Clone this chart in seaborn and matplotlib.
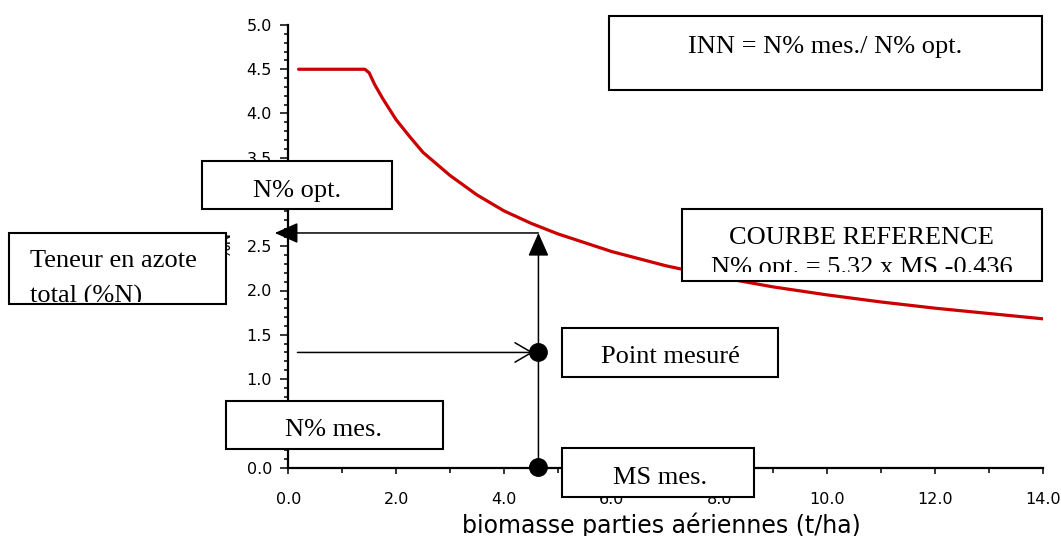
import matplotlib
matplotlib.use("Agg")
import matplotlib.pyplot as plt
import seaborn as sns
from matplotlib.patches import Rectangle
from matplotlib.transforms import Bbox, TransformedBbox
from matplotlib.ticker import MultipleLocator, FixedLocator, FixedFormatter

# ---------------- data ----------------
ms_curve = [0.19, 1.42, 1.50, 1.60, 1.75, 2.00, 2.25, 2.50, 3.00, 3.50, 4.00, 4.50,
            5.00, 6.00, 7.00, 8.00, 9.00, 10.0, 11.0, 12.0, 13.0, 14.0]
n_curve = [4.50, 4.50, 4.46, 4.33, 4.17, 3.93, 3.74, 3.56, 3.30, 3.08, 2.90, 2.76,
           2.64, 2.44, 2.28, 2.15, 2.04, 1.95, 1.87, 1.80, 1.74, 1.68]

ms_mes = 4.64          # measured biomass (t/ha)
n_opt = 2.65           # optimal N% at ms_mes
n_mes = 1.30           # measured N%
n_mes_line_start = 0.17
n_opt_arrow_tip = -0.25

x_ticks = [0, 2, 4, 6, 8, 10, 12, 14]
x_tick_labels = ["0.0", "2.0", "4.0", "6.0", "8.0", "10.0", "12.0", "14.0"]
y_ticks = [0.0, 0.5, 1.0, 1.5, 2.0, 2.5, 3.0, 3.5, 4.0, 4.5, 5.0]
y_tick_labels = ["0.0", "0.5", "1.0", "1.5", "2.0", "2.5", "3.0", "3.5", "4.0", "4.5", "5.0"]

x_label = "biomasse parties aériennes (t/ha)"
y_label = "%N"

# boxes: (x0, y0, x1, y1) in figure pixels, text lines, text x, ha, first baseline, line gap, clip bottom
boxes = [
    ((609.3, 16, 1041.7, 89.5), ["INN = N% mes./ N% opt."], 688, "left", 53.3, 0, None),
    ((201.7, 160.7, 392, 209), ["N% opt."], 252.7, "left", 196.7, 0, None),
    ((9.3, 233.3, 226, 304.3), ["Teneur en azote", "total (%N)"], 30, "left", 267.3, 35.5, 301.7),
    ((681.7, 209.3, 1041.7, 280.7), ["COURBE REFERENCE", "N% opt. = 5.32 x MS -0.436"],
     861.7, "center", 244.3, 30, 271.7),
    ((561.7, 328.3, 778.3, 376.7), ["Point mesuré"], 600.7, "left", 363.3, 0, None),
    ((561.7, 448.3, 754, 496.7), ["MS mes."], 612.7, "left", 484.3, 0, None),
    ((225.7, 400.7, 443, 449), ["N% mes."], 285, "left", 436, 0, None),
]

RED = "#cc0000"
W, H = 1061, 536

sns.set_style("ticks")
plt.rcParams["font.family"] = ["DejaVu Sans"]

fig = plt.figure(figsize=(W / 100, H / 100), dpi=100)
fig.patch.set_facecolor("white")

x_left, x_right, y_top, y_bot = 288.3, 1043.0, 25.0, 467.5
ax = fig.add_axes([x_left / W, (H - y_bot) / H, (x_right - x_left) / W, (y_bot - y_top) / H])

sns.lineplot(x=ms_curve, y=n_curve, color=RED, linewidth=2.3, ax=ax, zorder=2)

# arrows
ax.annotate("", xy=(ms_mes, n_opt), xytext=(ms_mes, 0),
            arrowprops=dict(arrowstyle="-|>,head_length=0.72,head_width=0.32", mutation_scale=20,
                            color="black", lw=1.1, shrinkA=0, shrinkB=0),
            annotation_clip=False, zorder=3)
ax.annotate("", xy=(n_opt_arrow_tip, n_opt), xytext=(ms_mes, n_opt),
            arrowprops=dict(arrowstyle="-|>,head_length=0.72,head_width=0.32", mutation_scale=20,
                            color="black", lw=1.1, shrinkA=0, shrinkB=0),
            annotation_clip=False, zorder=3)
ax.annotate("", xy=(ms_mes, n_mes), xytext=(n_mes_line_start, n_mes),
            arrowprops=dict(arrowstyle="->,head_length=0.6,head_width=0.35", mutation_scale=20,
                            color="black", lw=1.1, shrinkA=0, shrinkB=3.8),
            annotation_clip=False, zorder=3)

sns.scatterplot(x=[ms_mes, ms_mes], y=[n_mes, 0.0], s=185, color="black", edgecolor="none",
                ax=ax, zorder=5, clip_on=False, legend=False)

ax.set_xlim(0, 14)
ax.set_ylim(0, 5)
ax.xaxis.set_major_locator(FixedLocator(x_ticks))
ax.xaxis.set_major_formatter(FixedFormatter(x_tick_labels))
ax.yaxis.set_major_locator(FixedLocator(y_ticks))
ax.yaxis.set_major_formatter(FixedFormatter(y_tick_labels))
ax.xaxis.set_minor_locator(MultipleLocator(1))
ax.yaxis.set_minor_locator(MultipleLocator(0.1))

for s in ["top", "right"]:
    ax.spines[s].set_visible(False)
for s in ["left", "bottom"]:
    ax.spines[s].set_linewidth(1.6)
    ax.spines[s].set_color("black")

ax.tick_params(axis="y", which="major", direction="out", length=5.8, width=1.1,
               labelsize=11.5, pad=6.0, colors="black")
ax.tick_params(axis="y", which="minor", direction="out", length=3.0, width=1.1, colors="black")
ax.tick_params(axis="x", which="major", direction="out", length=4.5, width=1.1,
               labelsize=11.5, pad=12.8, colors="black")
ax.tick_params(axis="x", which="minor", direction="out", length=3.5, width=1.1, colors="black")
ax.set_facecolor("white")
ax.grid(False)

ax.set_xlabel(x_label, fontsize=17, color="black", va="baseline")
ax.xaxis.set_label_coords((661.7 - x_left) / (x_right - x_left), (y_bot - 532.5) / (y_bot - y_top))
ax.set_ylabel(y_label, fontsize=11, color="black")
ax.yaxis.set_label_coords((233.5 - x_left) / (x_right - x_left), (y_bot - 245) / (y_bot - y_top))

# overlay for boxes (pixel coordinates)
ov = fig.add_axes([0, 0, 1, 1], zorder=10)
ov.set_xlim(0, W)
ov.set_ylim(H, 0)
ov.axis("off")

for (x0, y0, x1, y1), lines, tx, ha, base, gap, clip_y in boxes:
    rect = Rectangle((x0, y0), x1 - x0, y1 - y0, facecolor="white", edgecolor="black",
                     linewidth=1.5, zorder=1)
    ov.add_patch(rect)
    clip_box = None
    if clip_y is not None:
        clip_box = TransformedBbox(Bbox([[x0, y0], [x1, clip_y]]), ov.transData)
    for i, line in enumerate(lines):
        t = ov.text(tx, base + i * gap, line, ha=ha, va="baseline", fontsize=19,
                    family="Liberation Serif", color="black", zorder=2)
        if clip_box is not None:
            t.set_clip_on(True)
            t.set_clip_box(clip_box)
        else:
            t.set_clip_on(False)

fig.savefig("out.png", dpi=100, facecolor="white")
